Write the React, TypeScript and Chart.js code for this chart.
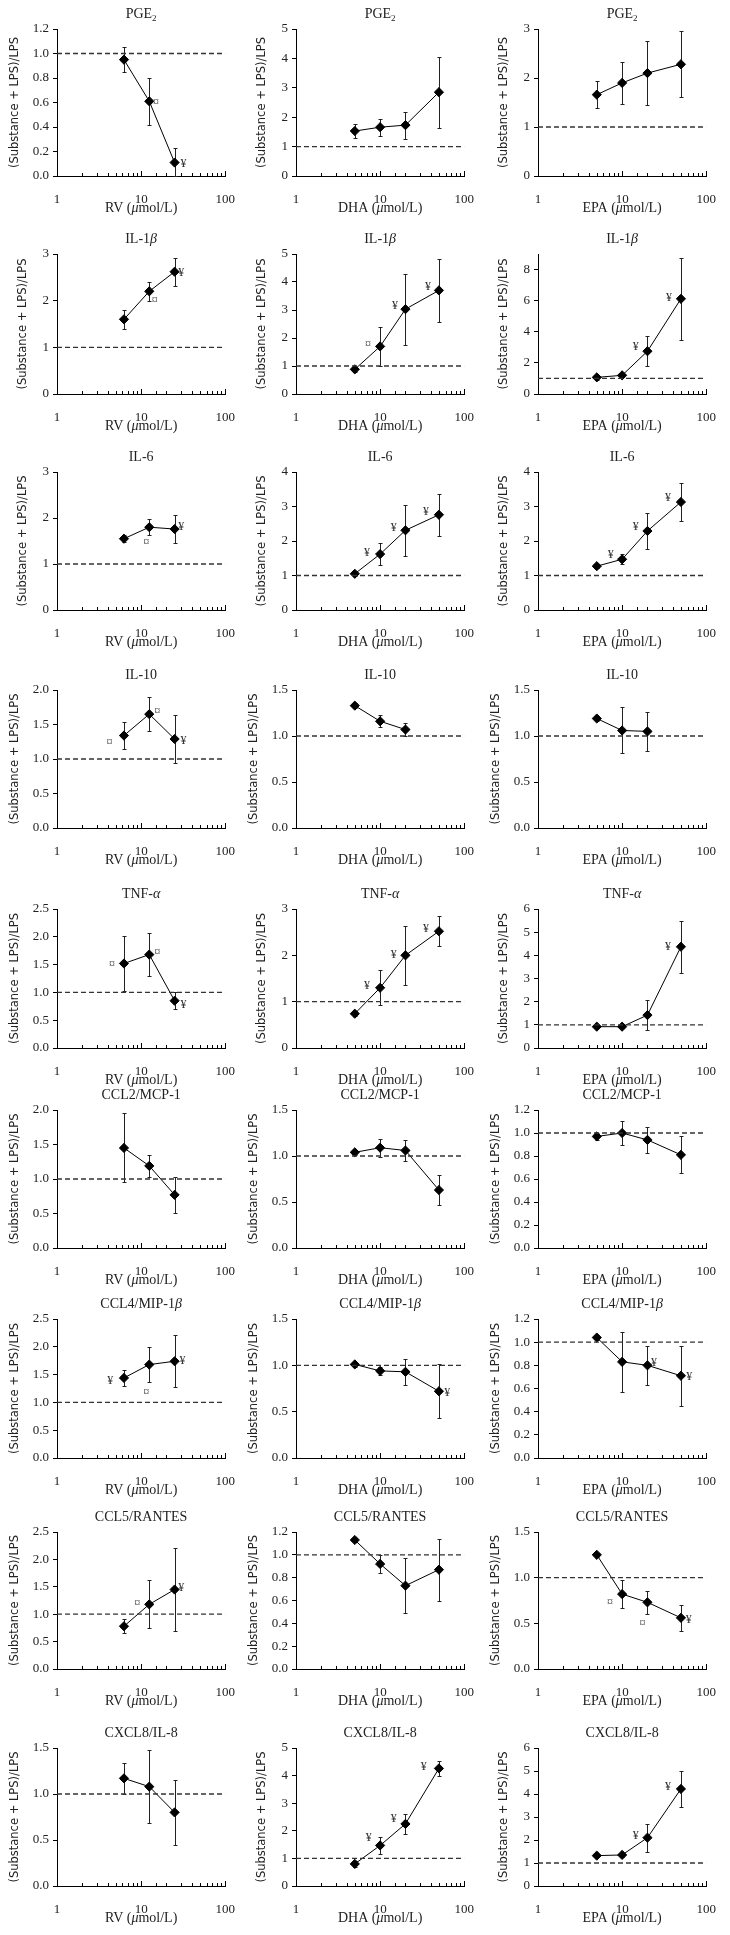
import React, { useEffect, useRef } from "react";
import { Chart, registerables } from "chart.js";
Chart.register(...registerables);

// ---------- DATA ----------
const rvDose = [6.25, 12.5, 25];
const faDose = [5, 10, 20, 50];
const xAxisTitles = ["RV (μmol/L)", "DHA (μmol/L)", "EPA (μmol/L)"];
const xTickLabels = [1, 10, 100];
const cytokines = ["PGE₂", "IL-1β", "IL-6", "IL-10", "TNF-α", "CCL2/MCP-1", "CCL4/MIP-1β", "CCL5/RANTES", "CXCL8/IL-8"];
const yAxisTitle = "(Substance + LPS)/LPS";
const referenceLevel = 1;

const yMaxRV = [1.2, 3, 3, 2, 2.5, 2, 2.5, 2.5, 1.5];
const yStepRV = [0.2, 1, 1, 0.5, 0.5, 0.5, 0.5, 0.5, 0.5];
const yMaxDHA = [5, 5, 4, 1.5, 3, 1.5, 1.5, 1.2, 5];
const yStepDHA = [1, 1, 1, 0.5, 1, 0.5, 0.5, 0.2, 1];
const yMaxEPA = [3, 9, 4, 1.5, 6, 1.2, 1.2, 1.5, 6];
const yStepEPA = [1, 1, 1, 0.5, 1, 0.2, 0.2, 0.5, 1];

type Mark = [string, number, number];

const pge2RV = [0.95, 0.61, 0.11];
const pge2RVsd = [0.10, 0.19, 0.12];
const pge2RVmk: Mark[] = [["¤", 15, 0.6], ["¥", 32, 0.1]];
const pge2DHA = [1.53, 1.66, 1.73, 2.85];
const pge2DHAsd = [0.23, 0.29, 0.46, 1.21];
const pge2DHAmk: Mark[] = [];
const pge2EPA = [1.66, 1.90, 2.10, 2.28];
const pge2EPAsd = [0.28, 0.43, 0.65, 0.67];
const pge2EPAmk: Mark[] = [];

const il1RV = [1.60, 2.20, 2.62];
const il1RVsd = [0.20, 0.20, 0.30];
const il1RVmk: Mark[] = [["¤", 14.5, 2.0], ["¥", 30, 2.6]];
const il1DHA = [0.88, 1.70, 3.03, 3.70];
const il1DHAsd = [0.10, 0.71, 1.27, 1.12];
const il1DHAmk: Mark[] = [["¤", 7.2, 1.75], ["¥", 15, 3.15], ["¥", 37, 3.82]];
const il1EPA = [1.07, 1.20, 2.75, 6.12];
const il1EPAsd = [0.15, 0.12, 0.95, 2.63];
const il1EPAmk: Mark[] = [["¥", 14.5, 3.0], ["¥", 36, 6.2]];

const il6RV = [1.55, 1.80, 1.76];
const il6RVsd = [0.08, 0.18, 0.30];
const il6RVmk: Mark[] = [["¤", 11.5, 1.45], ["¥", 30, 1.8]];
const il6DHA = [1.05, 1.62, 2.31, 2.76];
const il6DHAsd = [0.06, 0.31, 0.74, 0.61];
const il6DHAmk: Mark[] = [["¥", 7, 1.65], ["¥", 14.5, 2.38], ["¥", 35, 2.85]];
const il6EPA = [1.27, 1.47, 2.29, 3.13];
const il6EPAsd = [0.06, 0.14, 0.52, 0.54];
const il6EPAmk: Mark[] = [["¥", 7.3, 1.6], ["¥", 14.5, 2.4], ["¥", 35, 3.25]];

const il10RV = [1.34, 1.65, 1.29];
const il10RVsd = [0.19, 0.25, 0.35];
const il10RVmk: Mark[] = [["¤", 4.2, 1.23], ["¤", 15.5, 1.68], ["¥", 32, 1.27]];
const il10DHA = [1.33, 1.16, 1.07];
const il10DHAsd = [0.03, 0.065, 0.075];
const il10DHAmk: Mark[] = [];
const il10EPA = [1.19, 1.06, 1.05];
const il10EPAsd = [0.03, 0.25, 0.21];
const il10EPAmk: Mark[] = [];

const tnfRV = [1.52, 1.68, 0.85];
const tnfRVsd = [0.50, 0.39, 0.15];
const tnfRVmk: Mark[] = [["¤", 4.5, 1.5], ["¤", 15.5, 1.71], ["¥", 32, 0.78]];
const tnfDHA = [0.74, 1.30, 2.00, 2.52];
const tnfDHAsd = [0.05, 0.38, 0.64, 0.32];
const tnfDHAmk: Mark[] = [["¥", 7, 1.35], ["¥", 14.5, 2.0], ["¥", 35, 2.58]];
const tnfEPA = [0.92, 0.92, 1.42, 4.37];
const tnfEPAsd = [0.05, 0.05, 0.65, 1.12];
const tnfEPAmk: Mark[] = [["¥", 35, 4.35]];

const ccl2RV = [1.45, 1.19, 0.77];
const ccl2RVsd = [0.50, 0.16, 0.26];
const ccl2RVmk: Mark[] = [];
const ccl2DHA = [1.04, 1.09, 1.06, 0.63];
const ccl2DHAsd = [0.03, 0.10, 0.11, 0.165];
const ccl2DHAmk: Mark[] = [];
const ccl2EPA = [0.97, 1.00, 0.94, 0.81];
const ccl2EPAsd = [0.03, 0.10, 0.11, 0.16];
const ccl2EPAmk: Mark[] = [];

const ccl4RV = [1.44, 1.68, 1.74];
const ccl4RVsd = [0.15, 0.31, 0.47];
const ccl4RVmk: Mark[] = [["¥", 4.3, 1.38], ["¤", 11.5, 1.17], ["¥", 31, 1.74]];
const ccl4DHA = [1.01, 0.94, 0.93, 0.72];
const ccl4DHAsd = [0.03, 0.04, 0.14, 0.29];
const ccl4DHAmk: Mark[] = [["¥", 63, 0.7]];
const ccl4EPA = [1.04, 0.83, 0.80, 0.71];
const ccl4EPAsd = [0.02, 0.26, 0.17, 0.26];
const ccl4EPAmk: Mark[] = [["¥", 24, 0.82], ["¥", 63, 0.7]];

const ccl5RV = [0.78, 1.18, 1.45];
const ccl5RVsd = [0.13, 0.44, 0.75];
const ccl5RVmk: Mark[] = [["¤", 9, 1.18], ["¥", 30, 1.48]];
const ccl5DHA = [1.13, 0.92, 0.73, 0.87];
const ccl5DHAsd = [0.015, 0.08, 0.24, 0.27];
const ccl5DHAmk: Mark[] = [];
const ccl5EPA = [1.25, 0.82, 0.73, 0.56];
const ccl5EPAsd = [0.02, 0.15, 0.125, 0.14];
const ccl5EPAmk: Mark[] = [["¤", 7.2, 0.72], ["¤", 17.5, 0.49], ["¥", 62, 0.54]];

const il8RV = [1.17, 1.08, 0.80];
const il8RVsd = [0.17, 0.40, 0.355];
const il8RVmk: Mark[] = [];
const il8DHA = [0.80, 1.47, 2.25, 4.26];
const il8DHAsd = [0.12, 0.30, 0.35, 0.27];
const il8DHAmk: Mark[] = [["¥", 7.3, 1.75], ["¥", 14.5, 2.45], ["¥", 33, 4.3]];
const il8EPA = [1.32, 1.35, 2.10, 4.22];
const il8EPAsd = [0.08, 0.08, 0.60, 0.78];
const il8EPAmk: Mark[] = [["¥", 14.5, 2.2], ["¥", 35, 4.3]];

const rvMeans = [pge2RV, il1RV, il6RV, il10RV, tnfRV, ccl2RV, ccl4RV, ccl5RV, il8RV];
const rvSDs = [pge2RVsd, il1RVsd, il6RVsd, il10RVsd, tnfRVsd, ccl2RVsd, ccl4RVsd, ccl5RVsd, il8RVsd];
const rvMarks = [pge2RVmk, il1RVmk, il6RVmk, il10RVmk, tnfRVmk, ccl2RVmk, ccl4RVmk, ccl5RVmk, il8RVmk];
const dhaMeans = [pge2DHA, il1DHA, il6DHA, il10DHA, tnfDHA, ccl2DHA, ccl4DHA, ccl5DHA, il8DHA];
const dhaSDs = [pge2DHAsd, il1DHAsd, il6DHAsd, il10DHAsd, tnfDHAsd, ccl2DHAsd, ccl4DHAsd, ccl5DHAsd, il8DHAsd];
const dhaMarks = [pge2DHAmk, il1DHAmk, il6DHAmk, il10DHAmk, tnfDHAmk, ccl2DHAmk, ccl4DHAmk, ccl5DHAmk, il8DHAmk];
const epaMeans = [pge2EPA, il1EPA, il6EPA, il10EPA, tnfEPA, ccl2EPA, ccl4EPA, ccl5EPA, il8EPA];
const epaSDs = [pge2EPAsd, il1EPAsd, il6EPAsd, il10EPAsd, tnfEPAsd, ccl2EPAsd, ccl4EPAsd, ccl5EPAsd, il8EPAsd];
const epaMarks = [pge2EPAmk, il1EPAmk, il6EPAmk, il10EPAmk, tnfEPAmk, ccl2EPAmk, ccl4EPAmk, ccl5EPAmk, il8EPAmk];

// ---------- LAYOUT ----------
const rowChartTop = [29, 254, 472, 690, 909, 1110, 1319, 1532, 1748];
const rowChartHeight = [147, 140, 138, 138, 139, 138, 139, 137, 138];
const colLeft = [0, 239, 481];
const PANEL_W = 243;
const Y_AXIS_W = 57;
const X_AXIS_H = 44;
const TITLE_H = 33;
const RIGHT_PAD = 12;

const SERIF = "'Liberation Serif', 'Times New Roman', serif";
const SANS = "'DejaVu Sans', Verdana, sans-serif";

type PanelCfg = {
  title: string;
  xTitle: string;
  dose: number[];
  mean: number[];
  sd: number[];
  marks: Mark[];
  yMax: number;
  yStep: number;
  left: number;
  top: number;
  chartH: number;
};

function buildPanels(): PanelCfg[] {
  const out: PanelCfg[] = [];
  for (let r = 0; r < cytokines.length; r++) {
    const cols = [
      { dose: rvDose, mean: rvMeans[r], sd: rvSDs[r], marks: rvMarks[r], yMax: yMaxRV[r], yStep: yStepRV[r] },
      { dose: faDose, mean: dhaMeans[r], sd: dhaSDs[r], marks: dhaMarks[r], yMax: yMaxDHA[r], yStep: yStepDHA[r] },
      { dose: faDose, mean: epaMeans[r], sd: epaSDs[r], marks: epaMarks[r], yMax: yMaxEPA[r], yStep: yStepEPA[r] },
    ];
    cols.forEach((c, ci) => {
      out.push({
        title: cytokines[r],
        xTitle: xAxisTitles[ci],
        dose: c.dose,
        mean: c.mean,
        sd: c.sd,
        marks: c.marks,
        yMax: c.yMax,
        yStep: c.yStep,
        left: colLeft[ci],
        top: rowChartTop[r] - TITLE_H,
        chartH: rowChartHeight[r],
      });
    });
  }
  return out;
}

// Draw text centred at (cx, cy): Greek letters in italic, "₂" as a lowered small 2.
function drawRichText(ctx: CanvasRenderingContext2D, text: string, cx: number, cy: number, size: number) {
  type Run = { s: string; italic: boolean; sub: boolean };
  const runs: Run[] = [];
  for (const ch of Array.from(text)) {
    const italic = /[α-ωμ]/.test(ch);
    const sub = ch === "₂";
    const s = sub ? "2" : ch;
    const last = runs[runs.length - 1];
    if (last && last.italic === italic && last.sub === sub) last.s += s;
    else runs.push({ s, italic, sub });
  }
  const fontFor = (r: Run) => `${r.italic ? "italic " : ""}${r.sub ? Math.round(size * 0.65) : size}px ${SERIF}`;
  let total = 0;
  runs.forEach((r) => {
    ctx.font = fontFor(r);
    total += ctx.measureText(r.s).width;
  });
  let x = cx - total / 2;
  ctx.textAlign = "left";
  ctx.textBaseline = "middle";
  runs.forEach((r) => {
    ctx.font = fontFor(r);
    ctx.fillText(r.s, x, r.sub ? cy + size * 0.3 : cy);
    x += ctx.measureText(r.s).width;
  });
}

function makeExtras(cfg: PanelCfg) {
  return {
    id: "extras",
    beforeDatasetsDraw(chart: any) {
      const ctx = chart.ctx;
      const xs = chart.scales.x;
      const ys = chart.scales.y;
      const pts = chart.data.datasets[1].data as { x: number; y: number }[];
      ctx.save();
      ctx.strokeStyle = "#222";
      ctx.lineWidth = 1;
      pts.forEach((p, i) => {
        const px = Math.round(xs.getPixelForValue(p.x)) + 0.5;
        const yT = Math.round(ys.getPixelForValue(Math.min(p.y + cfg.sd[i], ys.max))) + 0.5;
        const yB = Math.round(ys.getPixelForValue(Math.max(p.y - cfg.sd[i], ys.min))) + 0.5;
        ctx.beginPath();
        ctx.moveTo(px, yT);
        ctx.lineTo(px, yB);
        ctx.moveTo(px - 2, yT);
        ctx.lineTo(px + 2, yT);
        ctx.moveTo(px - 2, yB);
        ctx.lineTo(px + 2, yB);
        ctx.stroke();
      });
      ctx.restore();
    },
    afterDatasetsDraw(chart: any) {
      const ctx = chart.ctx;
      const xs = chart.scales.x;
      const ys = chart.scales.y;
      const area = chart.chartArea;
      ctx.save();
      ctx.fillStyle = "#333";
      ctx.font = `12px ${SERIF}`;
      ctx.textAlign = "center";
      ctx.textBaseline = "middle";
      cfg.marks.forEach(([t, x, y]) => {
        ctx.fillText(t, xs.getPixelForValue(x), ys.getPixelForValue(y));
      });
      // inward minor/major ticks on the log axis
      ctx.strokeStyle = "#000";
      ctx.lineWidth = 1;
      const b = area.bottom;
      xs.ticks.forEach((tk: any) => {
        const px = Math.round(xs.getPixelForValue(tk.value)) + 0.5;
        const len = xTickLabels.includes(tk.value) ? 5 : 3;
        ctx.beginPath();
        ctx.moveTo(px, b);
        ctx.lineTo(px, b - len);
        ctx.stroke();
      });
      // panel title and x-axis title
      ctx.fillStyle = "#222";
      const cx = (area.left + area.right) / 2;
      drawRichText(ctx, cfg.title, cx, area.top - 15, 14);
      drawRichText(ctx, cfg.xTitle, cx, area.bottom + 32, 14);
      ctx.restore();
    },
  };
}

function Panel({ cfg }: { cfg: PanelCfg }) {
  const ref = useRef<HTMLCanvasElement>(null);
  const H = TITLE_H + cfg.chartH + X_AXIS_H;
  useEffect(() => {
    const pts = cfg.mean.map((m, i) => ({ x: cfg.dose[i], y: m }));
    const decimals = cfg.yStep < 1 ? 1 : 0;
    const chart = new Chart(ref.current as HTMLCanvasElement, {
      type: "line",
      data: {
        datasets: [
          {
            data: [
              { x: 1, y: referenceLevel },
              { x: 100, y: referenceLevel },
            ],
            borderColor: "#333",
            borderWidth: 1.3,
            borderDash: [5, 3],
            pointRadius: 0,
          },
          {
            data: pts,
            borderColor: "#000",
            borderWidth: 1,
            pointStyle: "rectRot",
            pointRadius: 4.6,
            pointBackgroundColor: "#000",
            pointBorderColor: "#000",
            tension: 0,
          },
        ],
      },
      options: {
        animation: false,
        responsive: false,
        devicePixelRatio: 1,
        layout: { padding: { left: 0, right: RIGHT_PAD, top: TITLE_H, bottom: 0 } },
        plugins: {
          legend: { display: false },
          tooltip: { enabled: false },
          title: { display: false },
        },
        scales: {
          x: {
            type: "logarithmic",
            min: 1,
            max: 100,
            grid: { display: false, drawOnChartArea: false },
            border: { display: true, color: "#000", width: 1 },
            ticks: {
              autoSkip: false,
              maxRotation: 0,
              padding: 8,
              color: "#222",
              font: { family: SERIF, size: 13 },
              callback: (v: any) => (xTickLabels.includes(Number(v)) ? String(v) : ""),
            },
            title: { display: false },
            afterFit: (s: any) => {
              s.height = X_AXIS_H;
            },
          },
          y: {
            type: "linear",
            min: 0,
            max: cfg.yMax,
            grid: { display: true, drawOnChartArea: false, drawTicks: true, tickLength: 4, color: "#000" },
            border: { display: true, color: "#000", width: 1 },
            ticks: {
              stepSize: cfg.yStep,
              padding: 4,
              color: "#222",
              font: { family: SERIF, size: 13 },
              callback: (v: any) => Number(v).toFixed(decimals),
            },
            title: {
              display: true,
              text: yAxisTitle,
              color: "#222",
              font: { family: SANS, size: 11.5 },
              padding: { top: decimals ? 8 : 16, bottom: 0 },
            },
            afterFit: (s: any) => {
              s.width = Y_AXIS_W;
            },
          },
        },
      } as any,
      plugins: [makeExtras(cfg)],
    });
    return () => chart.destroy();
  }, []);
  return (
    <canvas
      ref={ref}
      width={PANEL_W}
      height={H}
      style={{ position: "absolute", left: cfg.left, top: cfg.top, width: PANEL_W, height: H }}
    />
  );
}

export default function App() {
  const panels = buildPanels();
  return (
    <div style={{ position: "absolute", left: 0, top: 0, width: 730, height: 1935, background: "#fff", overflow: "hidden" }}>
      {panels.map((p, i) => (
        <Panel key={i} cfg={p} />
      ))}
    </div>
  );
}
